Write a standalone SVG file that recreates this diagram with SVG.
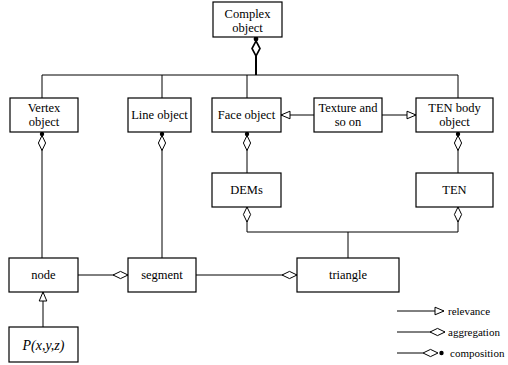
<svg xmlns="http://www.w3.org/2000/svg" width="508" height="365" viewBox="0 0 508 365" font-family="Liberation Serif, DejaVu Serif, serif">
<style>
.box{fill:#fff;stroke:#000;stroke-width:1.2}
.ln{fill:none;stroke:#000;stroke-width:1}
.thick{fill:none;stroke:#000;stroke-width:2}
text{font-family:'Liberation Serif','DejaVu Serif',serif;font-size:12.5px;text-anchor:middle;fill:#000}
.lg{font-size:11px;text-anchor:start}
.it{font-style:italic;font-size:14px}
</style>
<defs>
<marker id="comp" markerUnits="userSpaceOnUse" orient="auto" overflow="visible" markerWidth="20" markerHeight="10" refX="0" refY="0">
<circle cx="2" cy="0" r="2.2" fill="#000"/>
<polygon points="3.5,0 11,-3.6 18.5,0 11,3.6" fill="#fff" stroke="#000" stroke-width="1"/>
</marker>
<marker id="compT" markerUnits="userSpaceOnUse" orient="auto" overflow="visible" markerWidth="20" markerHeight="10" refX="0" refY="0">
<circle cx="2" cy="0" r="2.4" fill="#000"/>
<polygon points="4,0 11.5,-4 19,0 11.5,4" fill="#fff" stroke="#000" stroke-width="1.6"/>
</marker>
<marker id="aggE" markerUnits="userSpaceOnUse" orient="auto" overflow="visible" markerWidth="20" markerHeight="10" refX="0" refY="0">
<polygon points="0,0 -7.5,-3.6 -15,0 -7.5,3.6" fill="#fff" stroke="#000" stroke-width="1"/>
</marker>
<marker id="aggS" markerUnits="userSpaceOnUse" orient="auto" overflow="visible" markerWidth="20" markerHeight="10" refX="0" refY="0">
<polygon points="0,0 7.5,-3.6 15,0 7.5,3.6" fill="#fff" stroke="#000" stroke-width="1"/>
</marker>
<marker id="rel" markerUnits="userSpaceOnUse" orient="auto" overflow="visible" markerWidth="20" markerHeight="10" refX="0" refY="0">
<polygon points="0,0 -9,-3.8 -9,3.8" fill="#fff" stroke="#000" stroke-width="1"/>
</marker>
</defs>
<rect width="508" height="365" fill="#fff"/>
<g id="connectors">
<path class="thick" d="M256 37 V75" marker-start="url(#compT)"/>
<path class="ln" d="M42 98 V75 H458 V98 M162 75 V98 M247 75 V98"/>
<path class="ln" d="M314 115 H281" marker-end="url(#rel)"/>
<path class="ln" d="M382 115 H416" marker-end="url(#rel)"/>
<path class="ln" d="M247 132 V173" marker-start="url(#comp)"/>
<path class="ln" d="M458 132 V173" marker-start="url(#comp)"/>
<path class="ln" d="M42 132 V258" marker-start="url(#comp)"/>
<path class="ln" d="M162 132 V258" marker-start="url(#comp)"/>
<path class="ln" d="M247 207 V232 H458 V207" marker-start="url(#aggS)" marker-end="url(#aggE)"/>
<path class="ln" d="M348 232 V258"/>
<path class="ln" d="M78 275 H128" marker-end="url(#aggE)"/>
<path class="ln" d="M196 275 H297" marker-end="url(#aggE)"/>
<path class="ln" d="M43 327 V292" marker-end="url(#rel)"/>
</g>
<g id="complex"><rect class="box" x="213" y="2" width="69" height="35"/><text x="247.5" y="18">Complex</text><text x="247.5" y="31.5">object</text></g>
<g id="vertex"><rect class="box" x="10" y="98" width="68" height="34"/><text x="44" y="112">Vertex</text><text x="44" y="125.5">object</text></g>
<g id="line"><rect class="box" x="128" y="98" width="63" height="34"/><text x="159.5" y="119">Line object</text></g>
<g id="face"><rect class="box" x="212" y="98" width="69" height="34"/><text x="246.5" y="119">Face object</text></g>
<g id="texture"><rect class="box" x="314" y="98" width="68" height="34"/><text x="348" y="112">Texture and</text><text x="348" y="125.5">so on</text></g>
<g id="tenbody"><rect class="box" x="416" y="98" width="77" height="34"/><text x="454.5" y="112">TEN body</text><text x="454.5" y="125.5">object</text></g>
<g id="dems"><rect class="box" x="212" y="173" width="69" height="34"/><text x="246.5" y="194">DEMs</text></g>
<g id="ten"><rect class="box" x="416" y="173" width="77" height="34"/><text x="454.5" y="194">TEN</text></g>
<g id="node"><rect class="box" x="9" y="258" width="69" height="34"/><text x="43.5" y="279">node</text></g>
<g id="segment"><rect class="box" x="128" y="258" width="68" height="34"/><text x="162" y="279">segment</text></g>
<g id="triangle"><rect class="box" x="297" y="258" width="102" height="34"/><text x="348" y="279">triangle</text></g>
<g id="point"><rect class="box" x="9" y="327" width="69" height="35"/><text class="it" x="43.5" y="349.5">P(x,y,z)</text></g>
<g id="legend">
<path class="ln" d="M397 311 H444" marker-end="url(#rel)"/>
<text class="lg" x="448" y="315">relevance</text>
<path class="ln" d="M397 332 H445" marker-end="url(#aggE)"/>
<text class="lg" x="448" y="336">aggregation</text>
<path class="ln" d="M397 353 H423"/>
<polygon points="423,353 430.5,349.4 438,353 430.5,356.6" fill="#fff" stroke="#000" stroke-width="1"/>
<circle cx="441.5" cy="353" r="2.2" fill="#000"/>
<text class="lg" x="450" y="357">composition</text>
</g>
</svg>
